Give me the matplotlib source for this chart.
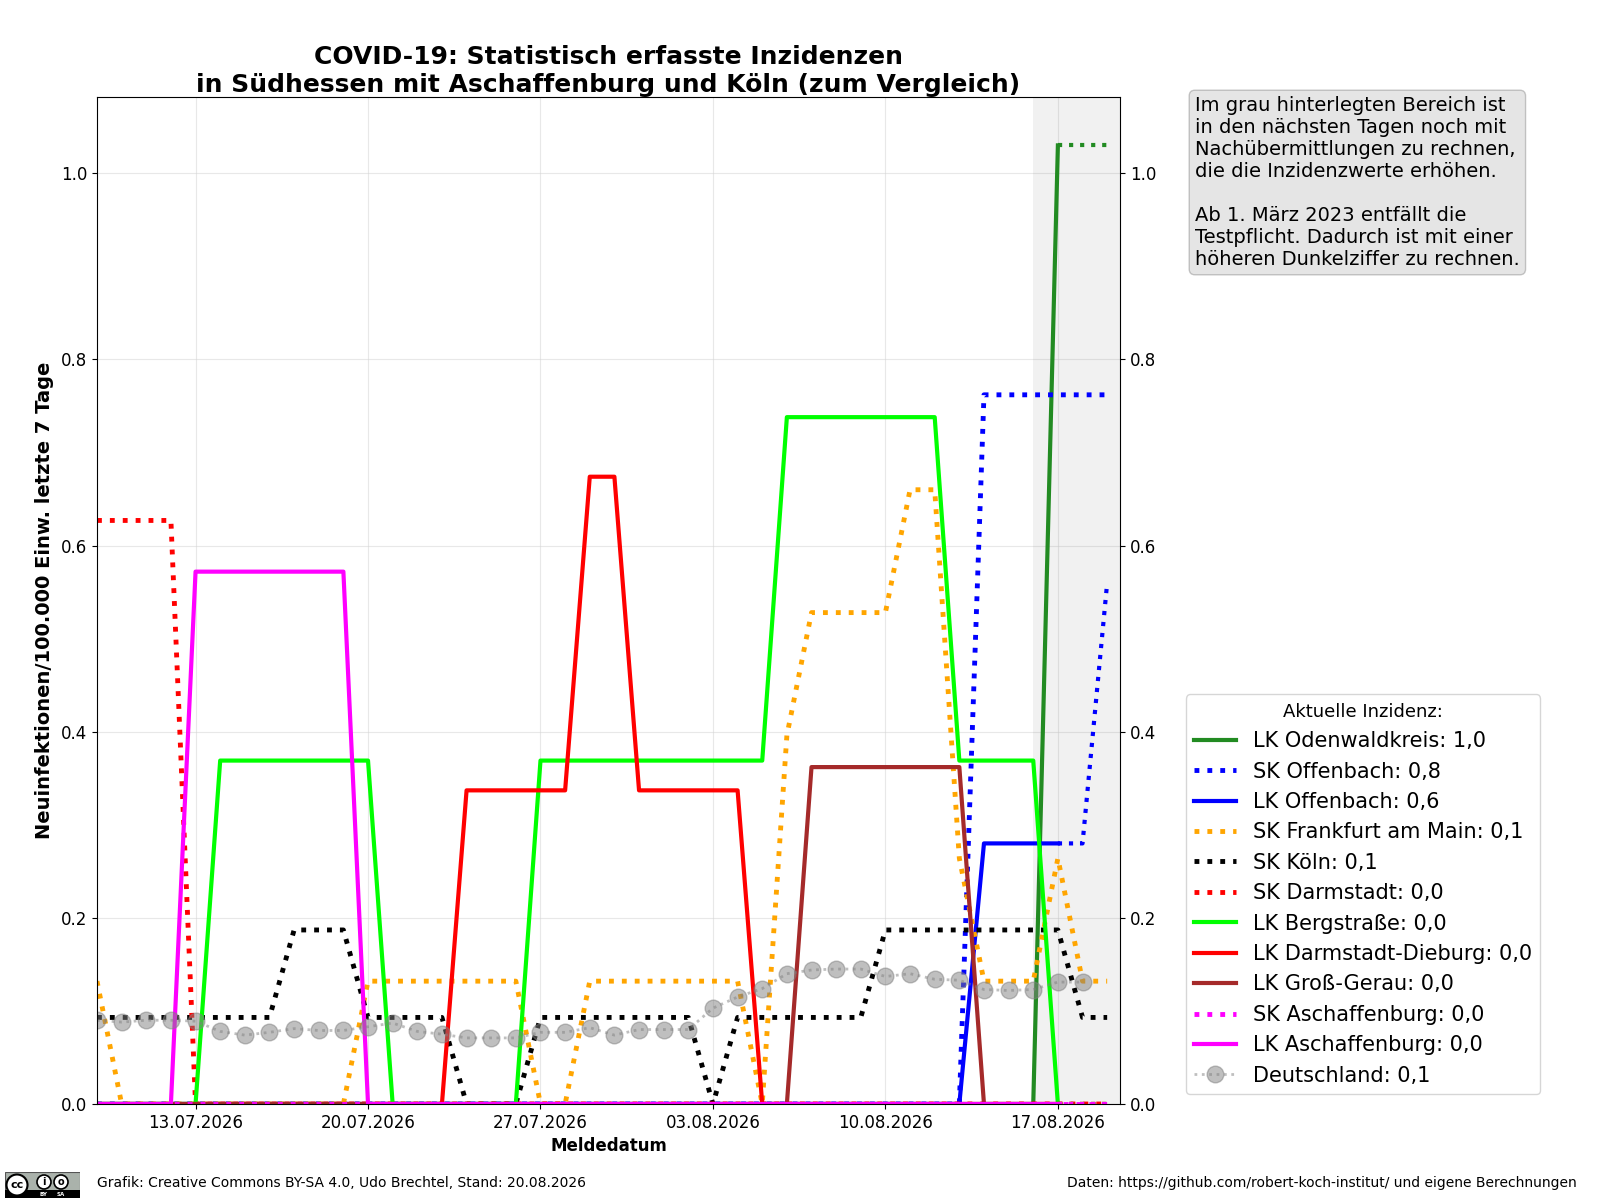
#!/usr/bin/python3

import pandas as pd
import matplotlib
matplotlib.use('Agg')
import matplotlib.pyplot as plt
import matplotlib.dates as mdates
from matplotlib.patches import Rectangle, Circle

# Meldedatum, one value per day
dates = pd.date_range('2026-07-09', '2026-08-19')
last_solid = 39  # 17.08., after that data is still incomplete

odenwald = [0]*39 + [1.03, 1.03, 1.03]
sk_offenbach = [0]*36 + [0.762]*6
lk_offenbach = [0]*36 + [0.28, 0.28, 0.28, 0.28, 0.28, 0.56]
frankfurt = [0.132, 0, 0, 0, 0, 0, 0, 0, 0, 0, 0, 0.132, 0.132, 0.132, 0.132, 0.132, 0.132, 0.132, 0, 0, 0.132,
             0.132, 0.132, 0.132, 0.132, 0.132, 0.132, 0, 0.396, 0.528, 0.528, 0.528, 0.528, 0.66, 0.66, 0.264,
             0.132, 0.132, 0.132, 0.264, 0.132, 0.132]
koeln = [0.093, 0.093, 0.093, 0.093, 0.093, 0.093, 0.093, 0.093, 0.187, 0.187, 0.187, 0.093, 0.093, 0.093, 0.093,
         0, 0, 0, 0.093, 0.093, 0.093, 0.093, 0.093, 0.093, 0.093, 0, 0.093, 0.093, 0.093, 0.093, 0.093, 0.093,
         0.187, 0.187, 0.187, 0.187, 0.187, 0.187, 0.187, 0.187, 0.093, 0.093]
sk_darmstadt = [0.627, 0.627, 0.627, 0.627] + [0]*38
bergstrasse = [0, 0, 0, 0, 0, 0.369, 0.369, 0.369, 0.369, 0.369, 0.369, 0.369, 0, 0, 0, 0, 0, 0, 0.369, 0.369, 0.369,
               0.369, 0.369, 0.369, 0.369, 0.369, 0.369, 0.369, 0.738, 0.738, 0.738, 0.738, 0.738, 0.738, 0.738,
               0.369, 0.369, 0.369, 0.369, 0, 0, 0]
dadi = [0]*15 + [0.337, 0.337, 0.337, 0.337, 0.337, 0.674, 0.674, 0.337, 0.337, 0.337, 0.337, 0.337] + [0]*15
gross_gerau = [0]*29 + [0.362]*7 + [0]*6
sk_aschaffenburg = [0]*42
lk_aschaffenburg = [0, 0, 0, 0, 0.572, 0.572, 0.572, 0.572, 0.572, 0.572, 0.572] + [0]*31
deutschland = [0.09, 0.088, 0.09, 0.09, 0.089, 0.078, 0.074, 0.077, 0.081, 0.079, 0.079, 0.083, 0.087, 0.078, 0.075,
               0.071, 0.071, 0.071, 0.077, 0.077, 0.082, 0.074, 0.08, 0.08, 0.08, 0.103, 0.115, 0.124, 0.14, 0.144,
               0.145, 0.145, 0.137, 0.14, 0.134, 0.133, 0.123, 0.122, 0.123, 0.131, 0.131]

note = ('Im grau hinterlegten Bereich ist\nin den nächsten Tagen noch mit\nNachübermittlungen zu rechnen,\n'
        'die die Inzidenzwerte erhöhen.\n\nAb 1. März 2023 entfällt die\nTestpflicht. Dadurch ist mit einer\n'
        'höheren Dunkelziffer zu rechnen.')

W, H = 1600, 1200
fig = plt.figure(figsize=(W/100, H/100), dpi=100)
ax = fig.add_axes([97/W, 1 - 1104/H, (1120-97)/W, (1104-97)/H])

# grey area for the days with late reports
ax.axvspan(dates[38], pd.Timestamp('2026-08-19 12:30'), color='grey', alpha=0.11, lw=0)

def solid(values, color, label):
    # solid up to 17.08., thin dotted tail afterwards
    ax.plot(dates[:last_solid+1], values[:last_solid+1], color=color, lw=3, label=label)
    ax.plot(dates[last_solid:], values[last_solid:], color=color, lw=3, ls=':')

def dotted(values, color, label):
    ax.plot(dates, values, color=color, lw=3.5, ls=':', label=label)

solid(odenwald, 'forestgreen', 'LK Odenwaldkreis: 1,0')
dotted(sk_offenbach, 'blue', 'SK Offenbach: 0,8')
solid(lk_offenbach, 'blue', 'LK Offenbach: 0,6')
dotted(frankfurt, 'orange', 'SK Frankfurt am Main: 0,1')
dotted(koeln, 'black', 'SK Köln: 0,1')
dotted(sk_darmstadt, 'red', 'SK Darmstadt: 0,0')
solid(bergstrasse, 'lime', 'LK Bergstraße: 0,0')
solid(dadi, 'red', 'LK Darmstadt-Dieburg: 0,0')
solid(gross_gerau, 'brown', 'LK Groß-Gerau: 0,0')
dotted(sk_aschaffenburg, 'magenta', 'SK Aschaffenburg: 0,0')
solid(lk_aschaffenburg, 'magenta', 'LK Aschaffenburg: 0,0')
ax.plot(dates[:len(deutschland)], deutschland, color='grey', alpha=0.5, lw=2, ls=':', marker='o', ms=12,
        label='Deutschland: 0,1')

ax.set_xlim(dates[0], pd.Timestamp('2026-08-19 12:30'))
ax.set_ylim(0, 1.082)
ax.xaxis.set_major_locator(mdates.WeekdayLocator(byweekday=mdates.MO))
ax.xaxis.set_major_formatter(mdates.DateFormatter('%d.%m.%Y'))
ax.set_yticks([0, 0.2, 0.4, 0.6, 0.8, 1.0])
ax.tick_params(labelsize=12, right=True, labelright=True)
ax.grid(color='lightgrey', alpha=0.5)
ax.set_axisbelow(True)

ax.set_title('COVID-19: Statistisch erfasste Inzidenzen\nin Südhessen mit Aschaffenburg und Köln (zum Vergleich)',
             fontsize=18, fontweight='bold', pad=3)
ax.set_xlabel('Meldedatum', fontsize=12, fontweight='bold', labelpad=4)
ax.set_ylabel('Neuinfektionen/100.000 Einw. letzte 7 Tage', fontsize=14, fontweight='bold', labelpad=5)

fig.legend(*ax.get_legend_handles_labels(), title='Aktuelle Inzidenz:', title_fontsize=13, fontsize=15,
           loc='lower left', bbox_to_anchor=(1186/W, 1 - 1094/H), bbox_transform=fig.transFigure,
           borderaxespad=0)

fig.text(1195/W, 1 - 96/H, note, fontsize=14, va='top', ha='left',
         bbox=dict(boxstyle='round', facecolor='grey', alpha=0.2))

fig.text(97/W, 1 - 1190/H, 'Grafik: Creative Commons BY-SA 4.0, Udo Brechtel, Stand: 20.08.2026', fontsize=10, va='bottom')
fig.text(1577/W, 1 - 1190/H, 'Daten: https://github.com/robert-koch-institut/ und eigene Berechnungen', fontsize=10,
         va='bottom', ha='right')

# CC BY-SA badge, bottom left
badge = fig.add_axes([5/W, 1 - 1198/H, 75/W, 26/H])
badge.set_xlim(0, 75)
badge.set_ylim(0, 26)
badge.axis('off')
badge.add_patch(Rectangle((0, 0), 75, 26, facecolor='#aab2ab', edgecolor='#555555', lw=0.8))
badge.add_patch(Rectangle((0, 0), 75, 8, facecolor='black'))
badge.add_patch(Circle((12, 13), 10.5, facecolor='white', edgecolor='black', lw=1.5))
badge.text(12, 13, 'cc', fontsize=8, fontweight='bold', ha='center', va='center')
badge.add_patch(Circle((39, 16), 7, facecolor='white', edgecolor='black', lw=1.2))
badge.add_patch(Circle((56, 16), 7, facecolor='white', edgecolor='black', lw=1.2))
badge.text(39, 16, 'i', fontsize=7, fontweight='bold', ha='center', va='center')
badge.text(56, 16, 'o', fontsize=7, fontweight='bold', ha='center', va='center')
badge.text(39, 3.5, 'BY', fontsize=4, fontweight='bold', color='white', ha='center', va='center')
badge.text(56, 3.5, 'SA', fontsize=4, fontweight='bold', color='white', ha='center', va='center')

fig.savefig('out.png', dpi=100)
